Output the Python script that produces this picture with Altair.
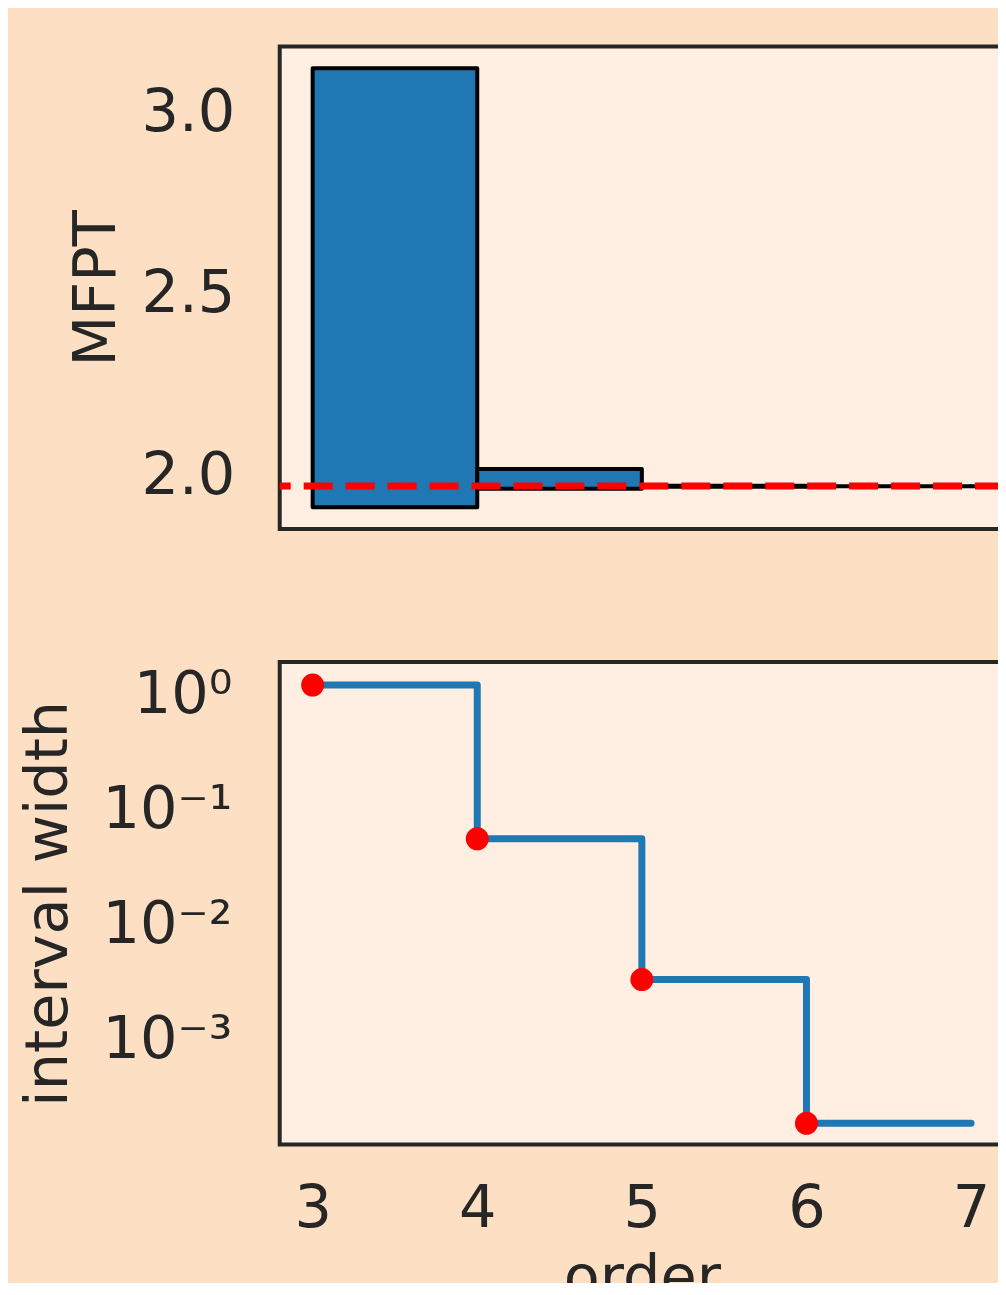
import altair as alt
import pandas as pd

# ---- data ----
orders = [3, 4, 5, 6, 7]
mfpt_lower = [1.911, 1.962, 1.9675, 1.9690, 1.9690]
mfpt_upper = [3.121, 2.0165, 1.9708, 1.9692, 1.9692]
mfpt_reference = [1.9697]

step_orders = [3, 4, 5, 6, 7]
step_widths = [1.21, 0.0555, 0.0033, 0.000185, 0.000185]
point_orders = [3, 4, 5, 6]
point_widths = [1.21, 0.0555, 0.0033, 0.000185]

x_ticks = [3, 4, 5, 6, 7]
mfpt_ticks = [2.0, 2.5, 3.0]
width_ticks = [1, 0.1, 0.01, 0.001]
width_tick_labels = ["10⁰", "10⁻¹", "10⁻²", "10⁻³"]

# ---- tables ----
bars_df = pd.DataFrame({
    "order": orders,
    "order_end": [o + 1 for o in orders],
    "lower": mfpt_lower,
    "upper": mfpt_upper,
})
ref_df = pd.DataFrame({"mfpt": mfpt_reference})
step_df = pd.DataFrame({"order": step_orders, "width": step_widths})
pts_df = pd.DataFrame({"order": point_orders, "width": point_widths})

# ---- style ----
FIG_BG = "#FDDFC3"
AX_BG = "#FEEFE2"
INK = "#262626"
FONT = "DejaVu Sans"
FS = 59

xscale = alt.Scale(domain=[2.8, 7.2], nice=False, zero=False)

label_expr = ""
for v, lab in zip(width_ticks, width_tick_labels):
    label_expr += f"datum.value >= {v * 0.5} ? '{lab}' : "
label_expr += "''"

# ---- top panel ----
bars = alt.Chart(bars_df).mark_rect(
    fill="#1f77b4", stroke="black", strokeWidth=4, strokeJoin="round", clip=True
).encode(
    x=alt.X("order:Q", scale=xscale, axis=None),
    x2="order_end:Q",
    y=alt.Y(
        "lower:Q",
        scale=alt.Scale(domain=[1.851, 3.181], nice=False, zero=False),
        axis=alt.Axis(
            values=mfpt_ticks, format=".1f", title="MFPT", labelPadding=45,
            titleAngle=270, titleX=-165, titleBaseline="alphabetic",
            titleAlign="center",
        ),
    ),
    y2="upper:Q",
)
rule = alt.Chart(ref_df).mark_rule(
    color="red", strokeWidth=7, strokeDash=[29, 13]
).encode(y="mfpt:Q")

top = alt.layer(bars, rule).properties(width=725, height=483)

# ---- bottom panel ----
ylog = alt.Scale(type="log", domain=[1.21e-4, 1.92], nice=False)
line = alt.Chart(step_df).mark_line(
    interpolate="step-after", color="#1f77b4", strokeWidth=7,
    strokeCap="round", strokeJoin="round",
).encode(
    x=alt.X(
        "order:Q", scale=xscale,
        axis=alt.Axis(values=x_ticks, format="d", title="order",
                      labelPadding=35, titleY=152, titleBaseline="alphabetic"),
    ),
    y=alt.Y(
        "width:Q", scale=ylog,
        axis=alt.Axis(values=width_ticks, labelExpr=label_expr, labelPadding=48,
                      title="interval width", titleAngle=270, titleX=-213,
                      titleBaseline="alphabetic", titleAlign="center"),
    ),
)
points = alt.Chart(pts_df).mark_circle(color="red", size=530, opacity=1).encode(
    x=alt.X("order:Q", scale=xscale),
    y=alt.Y("width:Q", scale=ylog),
)
bottom = alt.layer(line, points).properties(width=725, height=483)

chart = alt.vconcat(top, bottom, spacing=133, bounds="flush").properties(
    background=FIG_BG,
    padding={"left": 10, "top": 36, "right": -12, "bottom": -28},
).configure_view(
    fill=AX_BG, stroke=INK, strokeWidth=4,
).configure_axis(
    labelFont=FONT, labelFontSize=FS, labelColor=INK,
    titleFont=FONT, titleFontSize=FS, titleColor=INK, titleFontWeight="normal",
    ticks=False, domain=False, grid=False,
)

chart.save("out.html", embed_options={"renderer": "svg", "actions": False})
